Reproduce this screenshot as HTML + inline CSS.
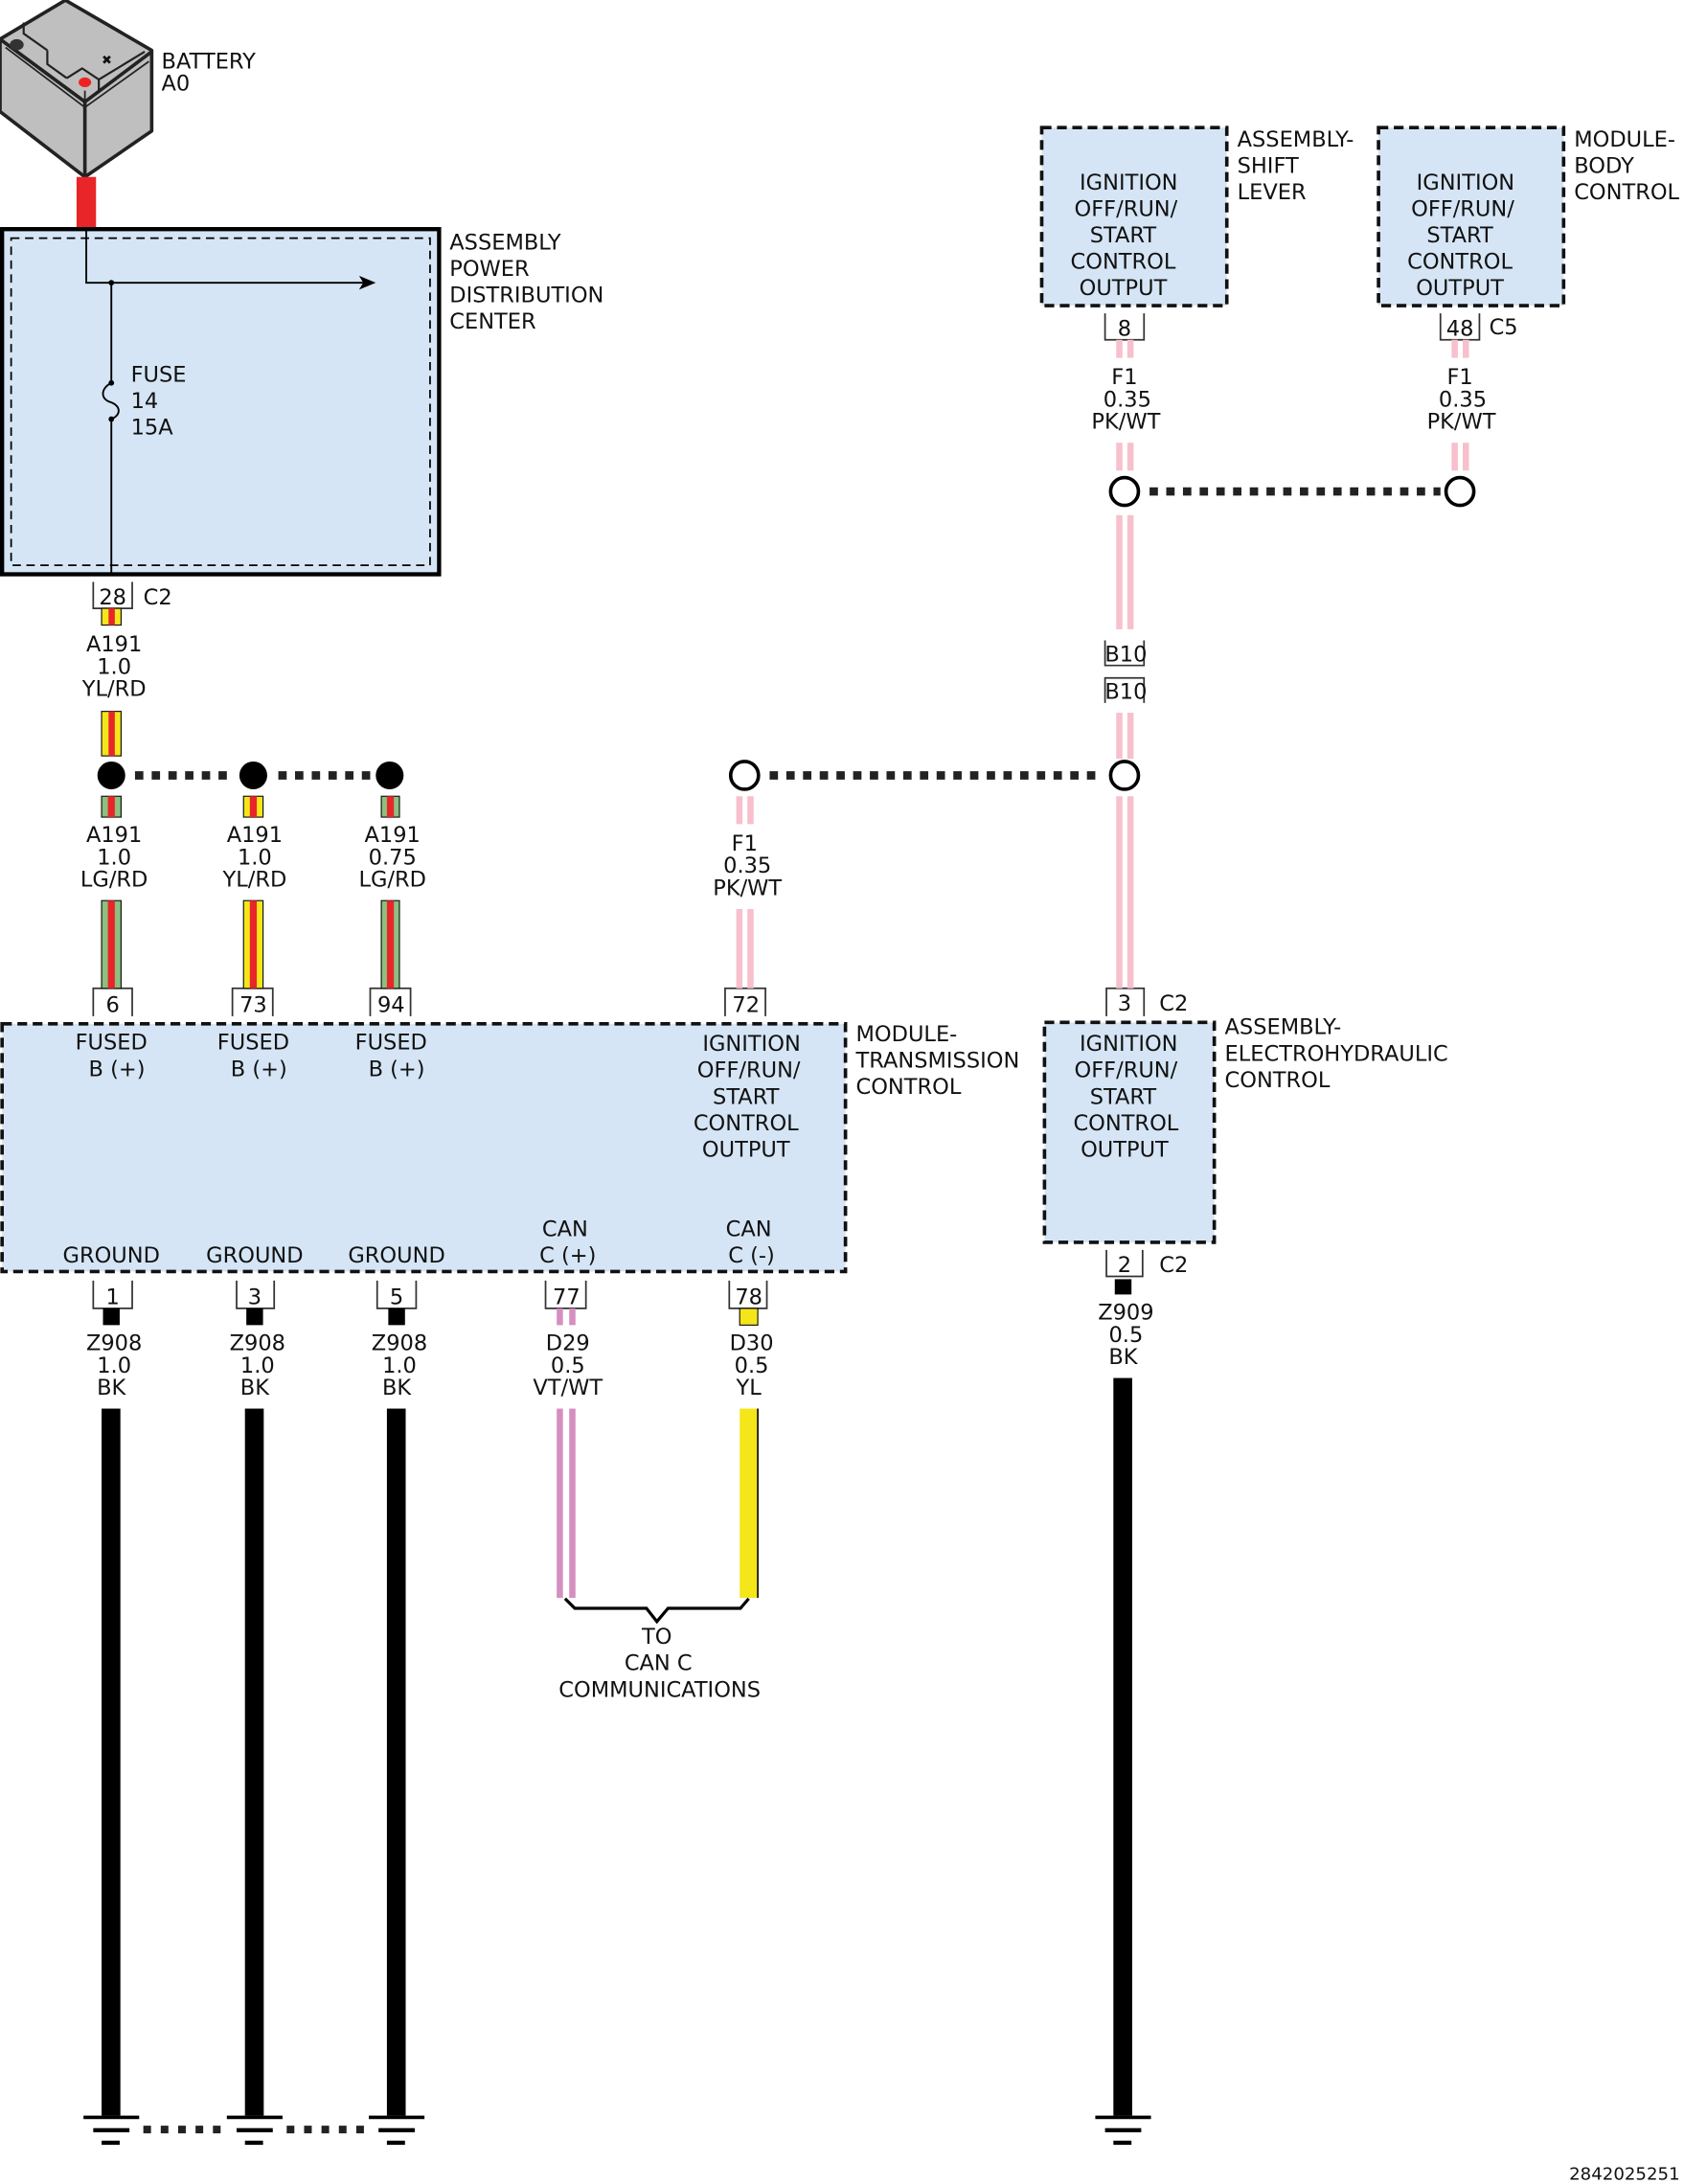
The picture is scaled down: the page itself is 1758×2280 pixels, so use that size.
<!DOCTYPE html>
<html><head><meta charset="utf-8"><style>
html,body{margin:0;padding:0;background:#fff;}
svg{display:block;}
text{font-family:"DejaVu Sans","Liberation Sans",sans-serif;font-size:15.5px;fill:#111;}
</style></head><body>
<svg width="1758" height="2280" viewBox="0 0 1210 1569" xmlns="http://www.w3.org/2000/svg">
<!-- Battery -->
<g stroke="#222" stroke-width="2.5" stroke-linejoin="round">
<polygon points="0,28 47,0 109,36 109,94 61,127 0,80" fill="#bfbfbf"/>
<polyline points="0,28 61,73 109,37" fill="none"/>
<line x1="61" y1="73" x2="61" y2="127"/>
<polyline points="4,34 61,77 107,44" fill="none" stroke-width="1.2"/>
<polyline points="17,16 17,24 34,36" fill="none" stroke-width="1.5"/>
<polyline points="34,36 34,46 48,56" fill="none" stroke-width="1.5"/>
<polyline points="48,56 59,49 71,57 71,66" fill="none" stroke-width="1.5"/>
<polyline points="71,57 104,37" fill="none" stroke-width="1.5"/>
<line x1="61" y1="73" x2="61" y2="65" stroke-width="1.2"/>
</g>
<ellipse cx="12" cy="32" rx="5" ry="4" fill="#333"/>
<ellipse cx="61" cy="59" rx="4.5" ry="3.5" fill="#e22"/>
<text x="73" y="46" style="font-size:9px">✖</text>
<rect x="55" y="127" width="14" height="36" fill="#e8262a"/>
<text x="116" y="49">BATTERY</text><text x="116" y="65">A0</text>

<!-- PDC -->
<rect x="1.5" y="164.5" width="314" height="248" fill="#d5e5f5" stroke="#000" stroke-width="3"/>
<rect x="8" y="171" width="301" height="235" fill="none" stroke="#000" stroke-width="1.2" stroke-dasharray="6,4"/>
<polyline points="62,164 62,203 268,203" fill="none" stroke="#000" stroke-width="1.3"/>
<polygon points="270,203 258,198 261,203 258,208" fill="#000"/>
<circle cx="80" cy="203" r="2" fill="#000"/>
<path d="M80,203 V275 C72,279 72,287 80,289 C87,292 87,298 80,301 V413" fill="none" stroke="#000" stroke-width="1.3"/>
<circle cx="80" cy="275" r="2" fill="#000"/><circle cx="80" cy="301" r="2" fill="#000"/>
<text x="94" y="274">FUSE</text><text x="94" y="293">14</text><text x="94" y="312">15A</text>
<text x="323" y="179">ASSEMBLY</text><text x="323" y="198">POWER</text><text x="323" y="217">DISTRIBUTION</text><text x="323" y="236">CENTER</text>

<g fill="none" stroke="#333" stroke-width="1.2">
<path d="M67,418 V437 H95 V418"/>
<path d="M67,730 V710 H95 V730"/>
<path d="M167,730 V710 H196 V730"/>
<path d="M266,730 V710 H295 V730"/>
<path d="M521,730 V710 H550 V730"/>
<path d="M67,920 V940 H95 V920"/>
<path d="M170,920 V940 H197 V920"/>
<path d="M271,920 V940 H299 V920"/>
<path d="M392,920 V940 H421 V920"/>
<path d="M524,920 V940 H551 V920"/>
<path d="M794,225 V244 H822 V225"/>
<path d="M1035,225 V244 H1063 V225"/>
<path d="M794,460 V478 H822 V460"/>
<path d="M794,505 V487 H822 V505"/>
<path d="M795,730 V710 H822 V730"/>
<path d="M795,898 V917 H821 V898"/>
</g>
<g text-anchor="middle">
<text x="81" y="434">28</text><text x="81" y="727">6</text><text x="182" y="727">73</text><text x="281" y="727">94</text><text x="536" y="727">72</text>
<text x="81" y="937">1</text><text x="183" y="937">3</text><text x="285" y="937">5</text><text x="407" y="937">77</text><text x="538" y="937">78</text>
<text x="808" y="241">8</text><text x="1049" y="241">48</text>
<text x="809" y="475">B10</text><text x="809" y="502">B10</text>
<text x="808" y="726">3</text><text x="808" y="914">2</text>
</g>
<text x="103" y="434">C2</text><text x="1070" y="240">C5</text><text x="833" y="726">C2</text><text x="833" y="914">C2</text>

<g>
<rect x="73" y="437" width="14" height="12" fill="#f5e61a" stroke="#111" stroke-width="0.8"/><rect x="78" y="437" width="4.5" height="12" fill="#e8262a"/>
<rect x="73" y="511" width="14" height="32" fill="#f5e61a" stroke="#111" stroke-width="0.8"/><rect x="78" y="511" width="4.5" height="32" fill="#e8262a"/>
<rect x="73" y="572" width="14" height="15" fill="#8dbf7f" stroke="#111" stroke-width="0.8"/><rect x="77.5" y="572" width="5" height="15" fill="#e8262a"/>
<rect x="73" y="647" width="14" height="63" fill="#8dbf7f" stroke="#111" stroke-width="0.8"/><rect x="77.5" y="647" width="5" height="63" fill="#e8262a"/>
<rect x="175" y="572" width="14" height="15" fill="#f5e61a" stroke="#111" stroke-width="0.8"/><rect x="179.5" y="572" width="5" height="15" fill="#e8262a"/>
<rect x="175" y="647" width="14" height="63" fill="#f5e61a" stroke="#111" stroke-width="0.8"/><rect x="179.5" y="647" width="5" height="63" fill="#e8262a"/>
<rect x="274" y="572" width="13" height="15" fill="#8dbf7f" stroke="#111" stroke-width="0.8"/><rect x="278" y="572" width="5" height="15" fill="#e8262a"/>
<rect x="274" y="647" width="13" height="63" fill="#8dbf7f" stroke="#111" stroke-width="0.8"/><rect x="278" y="647" width="5" height="63" fill="#e8262a"/>
</g>
<g text-anchor="middle">
<text x="82" y="468">A191</text><text x="82" y="484">1.0</text><text x="82" y="500">YL/RD</text>
<text x="82" y="605">A191</text><text x="82" y="621">1.0</text><text x="82" y="637">LG/RD</text>
<text x="183" y="605">A191</text><text x="183" y="621">1.0</text><text x="183" y="637">YL/RD</text>
<text x="282" y="605">A191</text><text x="282" y="621">0.75</text><text x="282" y="637">LG/RD</text>
</g>
<g stroke="#222" stroke-width="6" stroke-dasharray="6,6">
<line x1="97" y1="557" x2="166" y2="557"/><line x1="200" y1="557" x2="266" y2="557"/>
<line x1="553" y1="557" x2="793" y2="557"/>
<line x1="826" y1="353" x2="1035" y2="353"/>
</g>
<circle cx="80" cy="557" r="10" fill="#000"/><circle cx="182" cy="557" r="10" fill="#000"/><circle cx="280" cy="557" r="10" fill="#000"/>

<g fill="#f7c0cc">
<rect x="802" y="244" width="4.5" height="13"/><rect x="810" y="244" width="4.5" height="13"/>
<rect x="802" y="318" width="4.5" height="20"/><rect x="810" y="318" width="4.5" height="20"/>
<rect x="802" y="370" width="4.5" height="82"/><rect x="810" y="370" width="4.5" height="82"/>
<rect x="802" y="512" width="4.5" height="33"/><rect x="810" y="512" width="4.5" height="33"/>
<rect x="802" y="572" width="4.5" height="138"/><rect x="810" y="572" width="4.5" height="138"/>
<rect x="1043" y="244" width="4.5" height="13"/><rect x="1051" y="244" width="4.5" height="13"/>
<rect x="1043" y="318" width="4.5" height="20"/><rect x="1051" y="318" width="4.5" height="20"/>
<rect x="529" y="572" width="4.5" height="20"/><rect x="537" y="572" width="4.5" height="20"/>
<rect x="529" y="653" width="4.5" height="57"/><rect x="537" y="653" width="4.5" height="57"/>
</g>
<g fill="#fff" stroke="#000" stroke-width="2.5">
<circle cx="808" cy="353" r="10"/><circle cx="1049" cy="353" r="10"/><circle cx="808" cy="557" r="10"/><circle cx="535" cy="557" r="10"/>
</g>
<g text-anchor="middle">
<text x="808" y="276">F1</text><text x="810" y="292">0.35</text><text x="809" y="308">PK/WT</text>
<text x="1049" y="276">F1</text><text x="1051" y="292">0.35</text><text x="1050" y="308">PK/WT</text>
<text x="535" y="611">F1</text><text x="537" y="627">0.35</text><text x="537" y="643">PK/WT</text>
</g>

<rect x="1.5" y="735.5" width="606" height="178" fill="#d5e5f5" stroke="#111" stroke-width="2.5" stroke-dasharray="7,4"/>
<g text-anchor="middle">
<text x="80" y="754">FUSED</text><text x="84" y="773">B (+)</text>
<text x="182" y="754">FUSED</text><text x="186" y="773">B (+)</text>
<text x="281" y="754">FUSED</text><text x="285" y="773">B (+)</text>
<text x="540" y="755">IGNITION</text><text x="538" y="774">OFF/RUN/</text><text x="536" y="793">START</text><text x="536" y="812">CONTROL</text><text x="536" y="831">OUTPUT</text>
<text x="80" y="907">GROUND</text><text x="183" y="907">GROUND</text><text x="285" y="907">GROUND</text>
<text x="406" y="888">CAN</text><text x="408" y="907">C (+)</text>
<text x="538" y="888">CAN</text><text x="540" y="907">C (-)</text>
</g>
<text x="615" y="748">MODULE-</text><text x="615" y="767">TRANSMISSION</text><text x="615" y="786">CONTROL</text>

<rect x="748.5" y="91.5" width="133" height="128" fill="#d5e5f5" stroke="#111" stroke-width="2.5" stroke-dasharray="7,4"/>
<rect x="990.5" y="91.5" width="133" height="128" fill="#d5e5f5" stroke="#111" stroke-width="2.5" stroke-dasharray="7,4"/>
<g text-anchor="middle">
<text x="811" y="136">IGNITION</text><text x="809" y="155">OFF/RUN/</text><text x="807" y="174">START</text><text x="807" y="193">CONTROL</text><text x="807" y="212">OUTPUT</text>
<text x="1053" y="136">IGNITION</text><text x="1051" y="155">OFF/RUN/</text><text x="1049" y="174">START</text><text x="1049" y="193">CONTROL</text><text x="1049" y="212">OUTPUT</text>
</g>
<text x="889" y="105">ASSEMBLY-</text><text x="889" y="124">SHIFT</text><text x="889" y="143">LEVER</text>
<text x="1131" y="105">MODULE-</text><text x="1131" y="124">BODY</text><text x="1131" y="143">CONTROL</text>

<rect x="750.5" y="734.5" width="122" height="158" fill="#d5e5f5" stroke="#111" stroke-width="2.5" stroke-dasharray="7,4"/>
<g text-anchor="middle">
<text x="811" y="755">IGNITION</text><text x="809" y="774">OFF/RUN/</text><text x="807" y="793">START</text><text x="809" y="812">CONTROL</text><text x="808" y="831">OUTPUT</text>
</g>
<text x="880" y="743">ASSEMBLY-</text><text x="880" y="762">ELECTROHYDRAULIC</text><text x="880" y="781">CONTROL</text>

<g fill="#000">
<rect x="74" y="940" width="12" height="12"/><rect x="177" y="940" width="12" height="12"/><rect x="279" y="940" width="12" height="12"/>
<rect x="73" y="1012" width="13.5" height="508"/><rect x="176" y="1012" width="13.5" height="508"/><rect x="278" y="1012" width="13.5" height="508"/>
<rect x="801" y="919" width="12" height="11"/>
<rect x="800" y="990" width="13.5" height="530"/>
</g>
<g text-anchor="middle">
<text x="82" y="970">Z908</text><text x="82" y="986">1.0</text><text x="80" y="1002">BK</text>
<text x="185" y="970">Z908</text><text x="185" y="986">1.0</text><text x="183" y="1002">BK</text>
<text x="287" y="970">Z908</text><text x="287" y="986">1.0</text><text x="285" y="1002">BK</text>
<text x="408" y="970">D29</text><text x="408" y="986">0.5</text><text x="408" y="1002">VT/WT</text>
<text x="540" y="970">D30</text><text x="540" y="986">0.5</text><text x="538" y="1002">YL</text>
<text x="809" y="948">Z909</text><text x="809" y="964">0.5</text><text x="807" y="980">BK</text>
</g>
<g fill="#d48fc0">
<rect x="400" y="940" width="4.5" height="12"/><rect x="409" y="940" width="4.5" height="12"/>
<rect x="400" y="1012" width="4.5" height="136"/><rect x="409" y="1012" width="4.5" height="136"/>
</g>
<rect x="531.5" y="940" width="13" height="12" fill="#f5e61a" stroke="#111" stroke-width="0.8"/>
<rect x="531.5" y="1012" width="13" height="136" fill="#f5e61a"/>
<line x1="544.5" y1="1012" x2="544.5" y2="1148" stroke="#111" stroke-width="1.2"/>
<polyline points="406,1148.5 413,1155.5 464.5,1155.5 472,1165 480,1155.5 532,1155.5 538,1148.5" fill="none" stroke="#000" stroke-width="2.2"/>
<g text-anchor="middle">
<text x="472" y="1181">TO</text><text x="473" y="1200">CAN C</text><text x="474" y="1219">COMMUNICATIONS</text>
</g>

<g fill="#000">
<rect x="60" y="1520" width="40" height="2.5"/><rect x="67" y="1529" width="26" height="3"/><rect x="73" y="1538" width="13" height="3"/>
<rect x="163" y="1520" width="40" height="2.5"/><rect x="170" y="1529" width="26" height="3"/><rect x="176" y="1538" width="13" height="3"/>
<rect x="265" y="1520" width="40" height="2.5"/><rect x="272" y="1529" width="26" height="3"/><rect x="278" y="1538" width="13" height="3"/>
<rect x="787" y="1520" width="40" height="2.5"/><rect x="794" y="1529" width="26" height="3"/><rect x="800" y="1538" width="13" height="3"/>
</g>
<g stroke="#222" stroke-width="5.5" stroke-dasharray="5.5,7">
<line x1="103" y1="1530" x2="162" y2="1530"/><line x1="206" y1="1530" x2="265" y2="1530"/>
</g>
<text x="1207" y="1566" text-anchor="end" style="font-size:12.5px">2842025251</text>
</svg>
</body></html>
